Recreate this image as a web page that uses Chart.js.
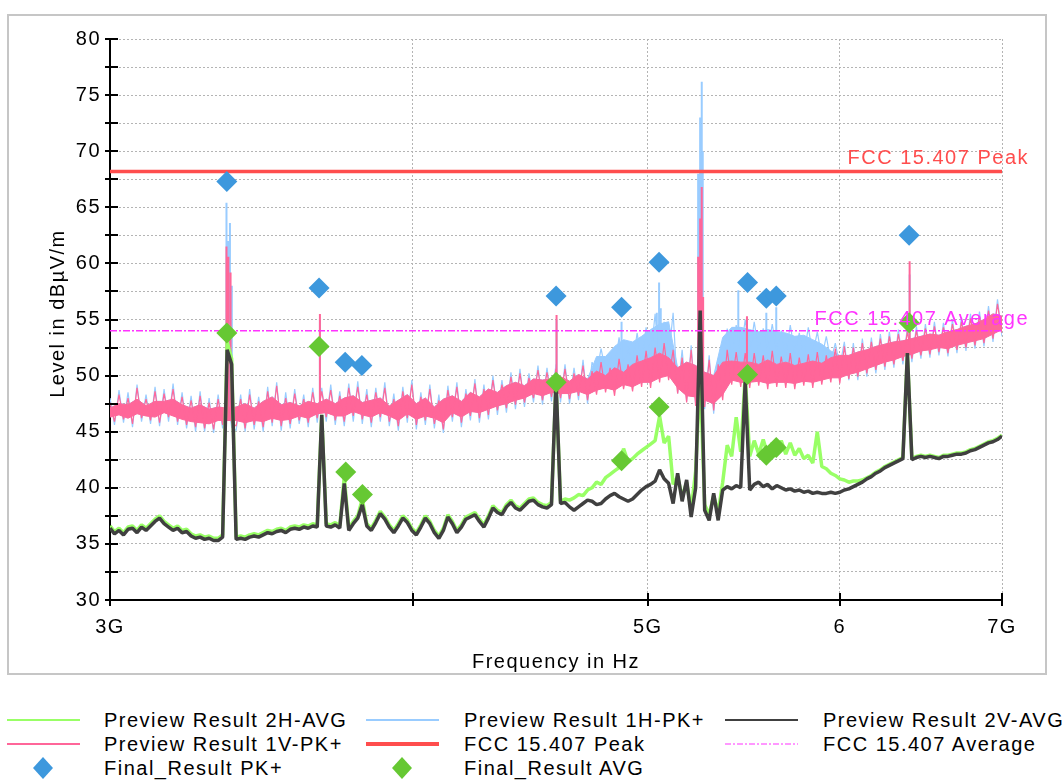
<!DOCTYPE html>
<html>
<head>
<meta charset="utf-8">
<script src="https://cdn.jsdelivr.net/npm/chart.js@4.4.1/dist/chart.umd.min.js"></script>
<style>
  body { margin: 0; background: #fff; font-family: "Liberation Sans", Arial, sans-serif; }
  #frame { position: absolute; left: 7px; top: 14px; width: 1036px; height: 657px; border: 2px solid #c6c6c6; }
  #plot { position: absolute; left: 0; top: 0; }
  .lg-item { position: absolute; height: 24px; display: flex; align-items: center; }
  .lg-text { position: absolute; font-size: 20px; letter-spacing: 1.5px; color: #000; white-space: nowrap; line-height: 24px; }
</style>
</head>
<body>
<div id="frame"></div>
<canvas id="plot" width="1063" height="690"></canvas>
<div id="legend"></div>
<script>
// frequency span 3 GHz .. 7 GHz; every array below is spread evenly over it on the log axis
const fStart = 3, fStop = 7;

// sweeps, 199 samples each (dBµV/m)
const preview2H_AVG = [
  36.6, 36.1, 36.4, 36.0, 36.5, 36.6, 36.2, 36.7, 36.4, 36.8,
  37.2, 37.5, 37.0, 36.7, 36.4, 36.6, 36.2, 36.3, 35.9, 35.7,
  35.8, 35.6, 35.7, 35.5, 35.5, 35.8, 53.0, 51.5, 35.6, 35.7,
  35.6, 35.8, 35.9, 35.8, 36.0, 36.2, 36.1, 36.3, 36.4, 36.2,
  36.5, 36.6, 36.5, 36.7, 36.6, 36.8, 36.7, 46.5, 36.8, 36.7,
  36.9, 36.6, 41.0, 36.4, 37.0, 37.5, 39.0, 36.8, 36.4, 37.1,
  37.9, 37.4, 36.7, 36.2, 36.8, 37.5, 37.1, 36.4, 36.0, 36.7,
  37.5, 37.0, 36.2, 35.7, 36.4, 37.6, 37.0, 36.2, 36.7, 37.4,
  37.6, 37.8, 37.2, 36.7, 37.5, 38.4, 38.0, 37.8, 38.5, 38.9,
  38.4, 38.2, 38.6, 39.0, 39.1, 38.7, 38.5, 38.4, 38.7, 49.4,
  38.8, 39.0, 38.9, 39.1, 39.4, 39.3, 39.8, 40.0, 40.5, 40.3,
  40.9, 41.2, 41.5, 41.8, 43.5, 42.3, 42.6, 43.0, 43.3, 43.6,
  43.9, 44.2, 46.4, 44.0, 44.6, 40.3, 41.0, 39.2, 40.5, 38.0,
  41.5, 50.0, 38.5, 37.6, 39.3, 37.8, 40.5, 43.8, 42.8, 46.3,
  43.2, 50.0, 42.8, 44.2, 43.0, 44.3, 42.9, 44.0, 43.4, 44.2,
  43.0, 44.0, 42.9, 43.5, 42.6, 42.9, 42.2, 45.0, 41.9, 41.7,
  41.3, 41.1, 40.8, 40.7, 40.5, 40.6, 40.6, 40.7, 40.9, 41.1,
  41.4, 41.6, 41.9, 42.1, 42.3, 42.5, 42.7, 52.0, 42.6, 42.8,
  42.9, 42.8, 42.9, 42.8, 42.7, 42.9, 42.9, 43.0, 43.1, 43.1,
  43.2, 43.4, 43.5, 43.7, 43.9, 44.1, 44.2, 44.4, 44.7
];

const preview2V_AVG = [
  36.4, 35.9, 36.2, 35.8, 36.3, 36.4, 36.0, 36.5, 36.2, 36.6,
  37.0, 37.3, 36.8, 36.5, 36.2, 36.4, 36.0, 36.1, 35.7, 35.5,
  35.6, 35.4, 35.5, 35.3, 35.3, 35.6, 52.3, 51.0, 35.4, 35.5,
  35.4, 35.6, 35.7, 35.6, 35.8, 36.0, 35.9, 36.1, 36.2, 36.0,
  36.3, 36.4, 36.3, 36.5, 36.4, 36.6, 36.5, 46.5, 36.6, 36.5,
  36.7, 36.4, 40.4, 36.2, 36.8, 37.3, 38.5, 36.6, 36.2, 36.9,
  37.7, 37.2, 36.5, 36.0, 36.6, 37.3, 36.9, 36.2, 35.8, 36.5,
  37.3, 36.8, 36.0, 35.5, 36.2, 37.4, 36.8, 36.0, 36.5, 37.2,
  37.4, 37.6, 37.0, 36.5, 37.3, 38.2, 37.8, 37.6, 38.3, 38.7,
  38.2, 38.0, 38.4, 38.8, 38.9, 38.5, 38.3, 38.2, 38.5, 49.6,
  38.6, 38.7, 38.3, 38.0, 38.3, 38.6, 38.9, 38.8, 38.5, 38.6,
  39.0, 39.3, 39.5, 39.2, 39.0, 38.8, 39.0, 39.4, 39.8, 40.1,
  40.3, 40.6, 41.6, 40.8, 40.4, 38.6, 41.3, 38.8, 40.7, 37.4,
  40.0, 55.8, 38.0, 37.1, 39.5, 37.1, 39.8, 40.1, 39.9, 40.2,
  40.0, 49.5, 39.8, 40.3, 40.5, 40.1, 40.3, 39.9, 40.2, 40.0,
  39.8, 39.9, 39.7, 39.8, 39.6, 39.7, 39.5, 39.6, 39.5, 39.5,
  39.6, 39.5, 39.6, 39.8, 39.9, 40.1, 40.3, 40.5, 40.8, 41.0,
  41.3, 41.5, 41.8, 42.0, 42.2, 42.4, 42.6, 52.0, 42.5, 42.7,
  42.8, 42.7, 42.8, 42.7, 42.6, 42.8, 42.8, 42.9, 43.0, 43.0,
  43.1, 43.3, 43.4, 43.6, 43.8, 44.0, 44.1, 44.3, 44.6
];

const preview1V_PK = [
  47.6, 45.9, 48.3, 46.1, 48.0, 45.7, 48.9, 46.2, 47.9, 46.0,
  48.6, 45.8, 48.4, 46.3, 48.8, 45.9, 48.1, 45.6, 47.8, 45.4,
  48.2, 45.3, 47.6, 45.2, 47.9, 45.6, 48.0, 45.8, 45.5, 47.9,
  45.3, 48.3, 45.6, 47.7, 45.4, 48.6, 45.8, 49.1, 45.5, 48.0,
  45.7, 48.4, 46.0, 47.9, 45.8, 48.5, 46.2, 48.6, 46.3, 48.7,
  46.0, 48.2, 45.9, 48.9, 46.4, 49.0, 46.1, 48.3, 45.8, 48.5,
  46.3, 48.9, 45.9, 47.9, 45.5, 48.6, 46.2, 49.2, 45.6, 48.1,
  46.0, 48.8, 45.7, 47.8, 45.2, 48.7, 46.3, 49.0, 45.8, 48.4,
  46.4, 49.3, 46.2, 48.8, 46.5, 49.6, 46.9, 49.2, 47.1, 49.9,
  47.4, 50.2, 47.6, 49.8, 48.0, 50.5, 47.8, 50.3, 48.1, 50.6,
  48.0, 50.6, 47.9, 50.2, 48.2, 50.9, 47.8, 50.4, 48.3, 51.2,
  48.5, 50.7, 48.2, 51.5, 48.8, 51.0, 48.6, 51.8, 49.0, 52.2,
  48.9, 52.5, 49.4, 52.9, 49.6, 52.3, 48.4, 51.6, 47.6, 52.3,
  47.3, 52.0, 47.2, 51.4, 46.9, 51.0, 47.8, 52.3, 49.2, 52.1,
  49.0, 52.0, 48.9, 52.0, 49.1, 51.8, 48.8, 52.2, 49.0, 51.7,
  48.9, 52.0, 48.8, 51.6, 49.1, 51.9, 48.9, 52.1, 49.2, 51.8,
  49.4, 52.4, 49.3, 52.6, 49.7, 52.5, 49.9, 52.9, 50.2, 53.0,
  50.5, 53.3, 50.8, 53.5, 51.0, 53.7, 51.3, 53.9, 51.5, 54.0,
  51.8, 54.2, 51.9, 54.4, 52.1, 54.3, 52.0, 54.6, 52.3, 54.8,
  52.5, 55.1, 52.7, 55.3, 52.9, 55.8, 53.3, 56.4, 53.8
];

const preview1H_PK = [
  48.0, 45.6, 48.7, 45.8, 48.5, 45.4, 49.2, 45.9, 48.3, 45.7,
  49.0, 45.5, 48.8, 45.9, 49.3, 45.6, 48.5, 45.3, 48.2, 45.0,
  48.6, 45.0, 48.0, 44.9, 48.3, 45.3, 48.3, 45.4, 45.1, 48.3,
  45.0, 48.8, 45.2, 48.1, 45.0, 49.0, 45.5, 49.4, 45.1, 48.5,
  45.3, 48.8, 45.7, 48.3, 45.4, 48.9, 45.8, 48.9, 45.9, 49.2,
  45.6, 48.6, 45.5, 49.3, 45.9, 49.5, 45.7, 48.8, 45.4, 48.9,
  45.9, 49.4, 45.5, 48.4, 45.1, 49.0, 45.8, 49.6, 45.2, 48.5,
  45.6, 49.2, 45.3, 48.3, 44.9, 49.1, 45.9, 49.4, 45.4, 48.8,
  46.0, 49.7, 45.8, 49.2, 46.1, 50.0, 46.5, 49.6, 46.7, 50.3,
  47.0, 50.6, 47.2, 50.2, 47.6, 50.9, 47.4, 50.7, 47.7, 51.0,
  47.6, 51.0, 47.5, 50.7, 47.8, 51.4, 47.5, 51.2, 50.2, 52.4,
  50.4, 52.0, 50.6, 53.4, 50.8, 52.6, 50.9, 53.8, 51.2, 54.3,
  51.5, 55.5, 51.0, 54.8, 51.6, 55.6, 48.4, 52.3, 47.7, 52.7,
  47.5, 52.5, 47.0, 51.8, 46.6, 51.5, 48.6, 54.2, 51.6, 54.5,
  52.0, 55.0, 51.9, 54.8, 52.2, 54.2, 52.0, 54.6, 52.2, 54.0,
  51.8, 54.5, 52.0, 53.8, 51.7, 54.3, 51.9, 53.9, 51.6, 53.5,
  51.3, 52.9, 50.8, 53.0, 49.6, 52.9, 49.6, 53.3, 49.9, 53.4,
  50.2, 53.7, 50.5, 53.9, 50.7, 54.1, 51.0, 54.3, 51.2, 54.4,
  51.5, 54.6, 51.6, 54.8, 51.8, 54.7, 51.7, 55.0, 52.0, 55.2,
  52.2, 55.5, 52.4, 55.7, 52.6, 56.2, 53.0, 56.8, 53.5
];

// dense core of the peak-detector noise band, 100 bins each
const core1V_top = [
  47.1, 47.5, 47.4, 47.9, 47.3, 47.7, 47.7, 47.9, 47.4, 47.1,
  47.4, 47.0, 47.2, 47.1, 47.2, 47.5, 47.1, 47.7, 48.1, 47.4,
  47.6, 47.3, 47.7, 47.5, 47.9, 47.5, 48.0, 48.2, 47.6, 47.8,
  48.0, 47.3, 47.8, 48.3, 47.5, 48.0, 47.2, 47.9, 48.2, 47.7,
  48.5, 48.1, 48.8, 48.5, 49.1, 49.4, 49.1, 49.7, 49.6, 49.7,
  49.9, 49.5, 50.1, 49.7, 50.4, 50.0, 50.7, 50.3, 51.0, 51.3,
  51.6, 52.0, 51.6, 50.7, 51.2, 50.9, 50.3, 50.0, 51.2, 51.3,
  51.2, 51.2, 51.0, 51.4, 51.0, 51.2, 50.9, 51.1, 51.3, 51.1,
  51.6, 51.8, 51.8, 52.1, 52.3, 52.6, 52.8, 53.0, 53.1, 53.3,
  53.5, 53.7, 53.6, 53.9, 54.1, 54.4, 54.6, 55.0, 55.5, 55.3
];
const core1V_bottom = [
  46.3, 46.5, 46.2, 46.6, 46.4, 46.3, 46.7, 46.4, 46.1, 45.9,
  45.8, 45.7, 46.0, 46.0, 46.0, 45.8, 46.0, 45.9, 46.2, 46.0,
  46.1, 46.4, 46.2, 46.6, 46.7, 46.4, 46.4, 46.8, 46.5, 46.3,
  46.7, 46.4, 46.0, 46.6, 46.1, 46.4, 46.2, 45.8, 46.7, 46.3,
  46.8, 46.7, 47.0, 47.3, 47.5, 47.8, 48.0, 48.4, 48.2, 48.5,
  48.4, 48.4, 48.6, 48.3, 48.7, 48.9, 48.7, 49.2, 49.0, 49.4,
  49.4, 49.8, 50.0, 48.9, 48.2, 48.1, 47.8, 47.5, 48.3, 49.6,
  49.4, 49.4, 49.5, 49.3, 49.4, 49.4, 49.3, 49.5, 49.4, 49.6,
  49.8, 49.8, 50.1, 50.3, 50.6, 50.9, 51.2, 51.4, 51.7, 51.9,
  52.2, 52.3, 52.5, 52.4, 52.7, 52.9, 53.1, 53.3, 53.7, 54.1
];
const core1H_top = [
  47.1, 47.5, 47.4, 47.9, 47.3, 47.7, 47.7, 47.9, 47.4, 47.1,
  47.4, 47.0, 47.2, 47.1, 47.2, 47.5, 47.1, 47.7, 48.1, 47.4,
  47.6, 47.3, 47.7, 47.5, 47.9, 47.5, 48.0, 48.2, 47.6, 47.8,
  48.0, 47.3, 47.8, 48.3, 47.5, 48.0, 47.2, 47.9, 48.2, 47.7,
  48.5, 48.1, 48.8, 48.5, 49.1, 49.4, 49.1, 49.7, 49.6, 49.7,
  49.9, 49.5, 50.1, 49.7, 51.7, 51.7, 52.6, 53.2, 53.0, 53.5,
  54.1, 54.6, 54.8, 50.7, 51.2, 50.9, 50.3, 50.0, 53.4, 54.3,
  54.3, 54.1, 53.9, 54.1, 53.9, 53.8, 53.5, 53.6, 53.2, 52.8,
  52.2, 51.8, 51.8, 52.1, 52.3, 52.6, 52.8, 53.0, 53.1, 53.3,
  53.5, 53.7, 53.6, 53.9, 54.1, 54.4, 54.6, 55.0, 55.5, 55.3
];

// narrow emissions rising out of the peak bands (GHz, band level, peak level)
const spike1V_freqs = [3.351, 3.357, 3.364, 3.662, 4.585, 5.245, 5.255, 5.263, 5.270, 5.494, 6.412];
const spike1V_bases = [47, 47, 47, 47, 49, 50, 50, 50, 50, 50, 52];
const spike1V_peaks = [61.5, 60.6, 59.2, 55.5, 55.4, 60.6, 64.0, 66.8, 57.0, 55.3, 60.2];
const spike1H_freqs = [3.351, 3.357, 3.362, 3.368, 3.662, 4.585, 4.877, 5.043, 5.054, 5.062,
                       5.245, 5.255, 5.263, 5.268, 5.449, 5.494, 5.596, 5.649, 6.412];
const spike1H_bases = [47, 47, 47, 47, 47, 49, 50, 51, 51, 51, 51, 51, 51, 51, 53, 53, 53, 53, 53];
const spike1H_peaks = [65.4, 62.0, 63.6, 58.0, 55.0, 55.0, 54.8, 55.6, 58.3, 56.0,
                       68.0, 73.0, 76.2, 70.0, 57.6, 55.0, 55.6, 56.1, 59.0];

// limit lines
const limitFreqs = [3, 7];
const fccPeak = [68.2, 68.2];
const fccAverage = [54, 54];

// final measurements (GHz, dBµV/m)
const pkFreqs = [3.352, 3.659, 3.751, 3.811, 4.583, 4.877, 5.054, 5.497, 5.596, 5.649, 6.409];
const pkLevels = [67.3, 57.8, 51.2, 50.9, 57.1, 56.1, 60.1, 58.3, 56.9, 57.1, 62.5];
const avgFreqs = [3.352, 3.659, 3.753, 3.813, 4.583, 4.877, 5.054, 5.497, 5.596, 5.649, 6.409];
const avgLevels = [53.8, 52.6, 41.4, 39.4, 49.4, 42.4, 47.2, 50.1, 42.9, 43.6, 54.7];

// axes
const xTickValues = [3, 4, 5, 6, 7];
const xTickLabels = ['3G', '', '5G', '6', '7G'];
const yLabelValues = [30, 35, 40, 45, 50, 55, 60, 65, 70, 75, 80];

const FONT = '"Liberation Sans", Arial, sans-serif';

function sweep(levels) {
  const last = levels.length - 1;
  return levels.map((v, i) => ({ x: fStart * Math.pow(fStop / fStart, i / last), y: v }));
}
function pairs(xs, ys) {
  return xs.map((x, i) => ({ x: x, y: ys[i] }));
}
function spikes(freqs, bases, peaks) {
  const pts = [];
  freqs.forEach((f, i) => pts.push({ x: f, y: bases[i] }, { x: f, y: peaks[i] }, { x: f, y: null }));
  return pts;
}

const trace = (label, data, color, width, order) => ({
  label, data, borderColor: color, backgroundColor: color, borderWidth: width, pointRadius: 0,
  tension: 0, borderJoinStyle: 'bevel', fill: false, spanGaps: false, order
});

const decorations = {
  id: 'decorations',
  beforeDraw(chart) {
    chart.ctx.letterSpacing = '1.5px';
  },
  afterDraw(chart) {
    const { ctx, chartArea: a, scales: { x, y } } = chart;
    ctx.save();
    ctx.letterSpacing = '1.5px';
    ctx.strokeStyle = '#000';
    ctx.lineWidth = 2;
    ctx.beginPath();
    for (let v = 30; v <= 80; v += 2.5) {
      const py = Math.round(y.getPixelForValue(v));
      ctx.moveTo(a.left - 5, py);
      ctx.lineTo(a.left + 8, py);
    }
    for (const v of xTickValues) {
      const px = Math.round(x.getPixelForValue(v));
      ctx.moveTo(px, a.bottom - 7);
      ctx.lineTo(px, a.bottom + 6);
    }
    ctx.stroke();

    ctx.font = '20px ' + FONT;
    ctx.fillStyle = '#000';
    ctx.textAlign = 'center';
    ctx.textBaseline = 'middle';
    ctx.fillText('Frequency in Hz', (a.left + a.right) / 2, a.bottom + 62);
    ctx.save();
    ctx.translate(a.left - 52, (a.top + a.bottom) / 2 - 6);
    ctx.rotate(-Math.PI / 2);
    ctx.fillText('Level in dBµV/m', 0, 0);
    ctx.restore();

    ctx.textAlign = 'right';
    ctx.textBaseline = 'alphabetic';
    ctx.fillStyle = '#ff4d4d';
    ctx.fillText('FCC 15.407 Peak', a.right + 27, y.getPixelForValue(fccPeak[0]) - 7);
    ctx.fillStyle = '#ff33ff';
    ctx.fillText('FCC 15.407 Average', a.right + 27, y.getPixelForValue(fccAverage[0]) - 6);
    ctx.restore();
  }
};

const PINK = '#ff6699', BLUE = '#99ccff';
const datasets = [
  { label: 'Final_Result PK+', data: pairs(pkFreqs, pkLevels), showLine: false,
    pointStyle: 'rectRot', pointRadius: 10.5, pointBackgroundColor: '#3d98dd', pointBorderWidth: 0, order: 0 },
  { label: 'Final_Result AVG', data: pairs(avgFreqs, avgLevels), showLine: false,
    pointStyle: 'rectRot', pointRadius: 10.5, pointBackgroundColor: '#66c833', pointBorderWidth: 0, order: 1 },
  Object.assign(trace('FCC 15.407 Average', pairs(limitFreqs, fccAverage), '#ff33ff', 1.4, 2), { borderDash: [7, 2, 2, 2] }),
  trace('FCC 15.407 Peak', pairs(limitFreqs, fccPeak), '#ff4d4d', 3.5, 3),
  trace('Preview Result 2V-AVG', sweep(preview2V_AVG), '#404040', 3.5, 4),
  trace('Preview Result 2H-AVG', sweep(preview2H_AVG), '#99ff66', 3.5, 5),
  trace('1V spikes', spikes(spike1V_freqs, spike1V_bases, spike1V_peaks), PINK, 2, 6),
  trace('Preview Result 1V-PK+', sweep(preview1V_PK), PINK, 1.2, 7),
  Object.assign(trace('1V core', sweep(core1V_top), PINK, 1, 8), { fill: 9 }),      // index 8 -> 9
  trace('1V core bottom', sweep(core1V_bottom), PINK, 1, 9),
  trace('1H spikes', spikes(spike1H_freqs, spike1H_bases, spike1H_peaks), BLUE, 2, 10),
  trace('Preview Result 1H-PK+', sweep(preview1H_PK), BLUE, 1.2, 11),
  Object.assign(trace('1H core', sweep(core1H_top), BLUE, 1, 12), { fill: 9 })      // down to the shared core bottom
];

new Chart(document.getElementById('plot'), {
  type: 'line',
  data: { datasets },
  options: {
    responsive: false,
    animation: false,
    devicePixelRatio: 1,
    events: [],
    layout: { padding: { left: 0, right: 61, top: 39, bottom: 0 } },
    plugins: { legend: { display: false }, tooltip: { enabled: false }, filler: { propagate: false } },
    scales: {
      x: {
        type: 'logarithmic', min: fStart, max: fStop,
        afterBuildTicks(scale) { scale.ticks = xTickValues.map(v => ({ value: v })); },
        afterFit(scale) { scale.height = 90; },
        grid: { color: '#b4b4b4', lineWidth: 1, drawTicks: false },
        border: { display: true, color: '#000', width: 2, dash: [2, 2] },
        ticks: {
          autoSkip: false, maxRotation: 0, padding: 15, color: '#000',
          font: { family: FONT, size: 20 },
          callback: (v, i) => xTickLabels[i]
        }
      },
      y: {
        min: 30, max: 80,
        afterFit(scale) { scale.width = 110; },
        grid: { color: '#b4b4b4', lineWidth: 1, drawTicks: false },
        border: { display: true, color: '#000', width: 2, dash: [2, 2] },
        ticks: {
          stepSize: 2.5, autoSkip: false, padding: 9, color: '#000',
          font: { family: FONT, size: 20 },
          callback: v => (yLabelValues.includes(v) ? String(v) : '')
        }
      }
    }
  },
  plugins: [decorations]
});

// legend below the frame
const legendItems = [
  { text: 'Preview Result 2H-AVG', kind: 'line', color: '#99ff66', w: 2 },
  { text: 'Preview Result 1H-PK+', kind: 'line', color: BLUE, w: 2 },
  { text: 'Preview Result 2V-AVG', kind: 'line', color: '#404040', w: 2 },
  { text: 'Preview Result 1V-PK+', kind: 'line', color: PINK, w: 2 },
  { text: 'FCC 15.407 Peak', kind: 'line', color: '#ff4d4d', w: 4 },
  { text: 'FCC 15.407 Average', kind: 'dash', color: '#ff33ff', w: 1.2 },
  { text: 'Final_Result PK+', kind: 'diamond', color: '#3d98dd' },
  { text: 'Final_Result AVG', kind: 'diamond', color: '#66c833' }
];
const colSample = [7, 366, 725];
const colText = [104, 464, 823];
const rowTop = [708, 732, 756];
const legend = document.getElementById('legend');
legendItems.forEach((it, i) => {
  const col = i % 3, row = Math.floor(i / 3);
  let svg;
  if (it.kind === 'diamond') {
    svg = '<svg width="74" height="24"><polygon points="36,1 46,12 36,23 26,12" fill="' + it.color + '"/></svg>';
  } else {
    const dash = it.kind === 'dash' ? ' stroke-dasharray="6,2,2,2"' : '';
    svg = '<svg width="74" height="24"><line x1="0" y1="12" x2="73" y2="12" stroke="' + it.color +
      '" stroke-width="' + it.w + '"' + dash + '/></svg>';
  }
  const s = document.createElement('div');
  s.className = 'lg-item';
  s.style.left = colSample[col] + 'px';
  s.style.top = rowTop[row] + 'px';
  s.innerHTML = svg;
  legend.appendChild(s);
  const t = document.createElement('div');
  t.className = 'lg-text';
  t.style.left = colText[col] + 'px';
  t.style.top = rowTop[row] + 'px';
  t.textContent = it.text;
  legend.appendChild(t);
});
</script>
</body>
</html>
